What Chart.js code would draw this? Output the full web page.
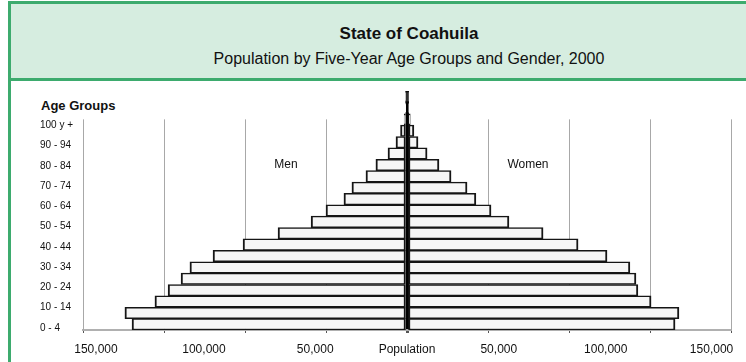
<!DOCTYPE html>
<html>
<head>
<meta charset="utf-8">
<script src="https://cdn.jsdelivr.net/npm/chart.js@4.4.1/dist/chart.umd.min.js"></script>
<style>
  body { margin: 0; width: 746px; height: 362px; overflow: hidden; background: #fff;
         font-family: "Liberation Sans", Arial, sans-serif; position: relative; }
  #frame { position: absolute; left: 8px; top: 1px; width: 802px; height: 400px;
           border: 3px solid #3dab6e; box-sizing: border-box; }
  #head { position: absolute; left: 8px; top: 1px; width: 802px; height: 80px;
          background: #d6ede0; border: 3px solid #3dab6e; box-sizing: border-box;
          text-align: center; color: #111; }
  #head .t1 { font-weight: bold; font-size: 17px; margin-top: 20px; }
  #head .t2 { font-size: 16px; margin-top: 6px; }
  #agetitle { position: absolute; left: 41px; top: 98px; font-weight: bold; font-size: 13px; color: #111; }
  #wrap { position: absolute; left: 0; top: 82px; }
</style>
</head>
<body>
<div id="frame"></div>
<div id="head">
  <div class="t1">State of Coahuila</div>
  <div class="t2">Population by Five-Year Age Groups and Gender, 2000</div>
</div>
<div id="agetitle">Age Groups</div>
<div id="wrap"><canvas id="myChart" width="746" height="280"></canvas></div>
<script>
// age groups, youngest first
const ageGroups = ["0 - 4", "5 - 9", "10 - 14", "15 - 19", "20 - 24", "25 - 29", "30 - 34",
  "35 - 39", "40 - 44", "45 - 49", "50 - 54", "55 - 59", "60 - 64", "65 - 69", "70 - 74",
  "75 - 79", "80 - 84", "85 - 89", "90 - 94", "95 - 99", "100 y +"];

const men = [127300, 130600, 116700, 110600, 104600, 100500, 89800, 75900, 59700, 44400,
  37500, 29200, 25500, 19000, 14400, 8800, 5100, 3000, 1300, 700, 300];
const women = [124100, 125900, 113000, 106900, 106000, 103200, 92600, 79200, 63000, 47200,
  38900, 31900, 27800, 20400, 14800, 9300, 5100, 3200, 1500, 700, 300];

// bottom axis labels and where they sit
const xTickValues = [-144000, -94000, -42500, 0, 42500, 92000, 141000];
const xTickLabels = ["150,000", "100,000", "50,000", "Population", "50,000", "100,000", "150,000"];

// vertical grid lines stop a little above the "100 y +" label
const gridTop = 103;

const gridLines = {
  id: "gridLines",
  beforeDatasetsDraw(chart) {
    const { ctx, chartArea, scales: { x, yLab } } = chart;
    const top = yLab.getPixelForValue(gridTop);
    ctx.save();
    ctx.strokeStyle = "#a8a8a8";
    ctx.lineWidth = 1;
    x.ticks.forEach(t => {
      if (t.value === 0) return;
      const px = Math.round(x.getPixelForValue(t.value)) + 0.5;
      ctx.beginPath();
      ctx.moveTo(px, top);
      ctx.lineTo(px, chartArea.bottom);
      ctx.stroke();
    });
    ctx.restore();
  }
};

const sideLabels = {
  id: "sideLabels",
  afterDatasetsDraw(chart) {
    const { ctx, scales: { x, y } } = chart;
    const yy = y.getPixelForValue(14);
    ctx.save();
    ctx.font = '12px "Liberation Sans", Arial, sans-serif';
    ctx.fillStyle = "#111";
    ctx.textAlign = "center";
    ctx.textBaseline = "middle";
    ctx.fillText(chart.data.datasets[0].label, x.getPixelForValue(-56000), yy);
    ctx.fillText(chart.data.datasets[1].label, x.getPixelForValue(56000), yy);
    ctx.restore();
  }
};

const barStyle = {
  backgroundColor: "#f6f6f6",
  borderColor: "#151515",
  borderWidth: { top: 1.5, bottom: 1.5, left: 2, right: 2 },
  borderSkipped: false,
  barPercentage: 1,
  categoryPercentage: 1,
  xAxisID: "x",
  yAxisID: "y"
};

const ctx = document.getElementById("myChart").getContext("2d");
new Chart(ctx, {
  type: "bar",
  data: {
    labels: ageGroups,
    datasets: [
      Object.assign({ label: "Men", data: men.map(v => -v) }, barStyle),
      Object.assign({ label: "Women", data: women }, barStyle)
    ]
  },
  options: {
    indexAxis: "y",
    responsive: false,
    animation: false,
    layout: { padding: { top: 9, left: 40, right: 15, bottom: 0 } },
    plugins: { legend: { display: false }, tooltip: { enabled: false } },
    scales: {
      y: { type: "category", stacked: true, reverse: true, display: false },
      yLab: {
        type: "linear",
        position: "left",
        offset: false,
        min: -1,
        max: 117,
        grid: { display: false, drawTicks: false, offset: false },
        border: { display: false },
        afterBuildTicks: s => {
          s.ticks = ageGroups.map((g, i) => ({ value: i * 5 })).filter(t => t.value % 10 === 0);
        },
        afterFit: s => { s.width = 43; },
        ticks: {
          callback: v => ageGroups[v / 5],
          font: { family: '"Liberation Sans", Arial, sans-serif', size: 10 },
          color: "#111",
          crossAlign: "far",
          padding: 0
        }
      },
      x: {
        type: "linear",
        stacked: true,
        position: "bottom",
        min: -150000,
        max: 150000,
        ticks: { display: false, stepSize: 37500 },
        grid: {
          color: c => (c.tick && c.tick.value === 0 ? "#000" : "rgba(0,0,0,0)"),
          lineWidth: c => (c.tick && c.tick.value === 0 ? 3 : 1),
          tickLength: 3,
          tickColor: "#555"
        },
        border: { color: "#b0b0b0", width: 2 },
        afterFit: s => { s.height = 4; }
      },
      xLab: {
        type: "linear",
        position: "bottom",
        min: -150000,
        max: 150000,
        grid: { display: false, drawTicks: false },
        border: { display: false },
        afterBuildTicks: s => { s.ticks = xTickValues.map(v => ({ value: v })); },
        afterFit: s => { s.height = 28; },
        ticks: {
          callback: (v, i) => xTickLabels[i],
          autoSkip: false,
          maxRotation: 0,
          padding: 8,
          font: { family: '"Liberation Sans", Arial, sans-serif', size: 12 },
          color: "#111"
        }
      }
    }
  },
  plugins: [gridLines, sideLabels]
});
</script>
</body>
</html>
